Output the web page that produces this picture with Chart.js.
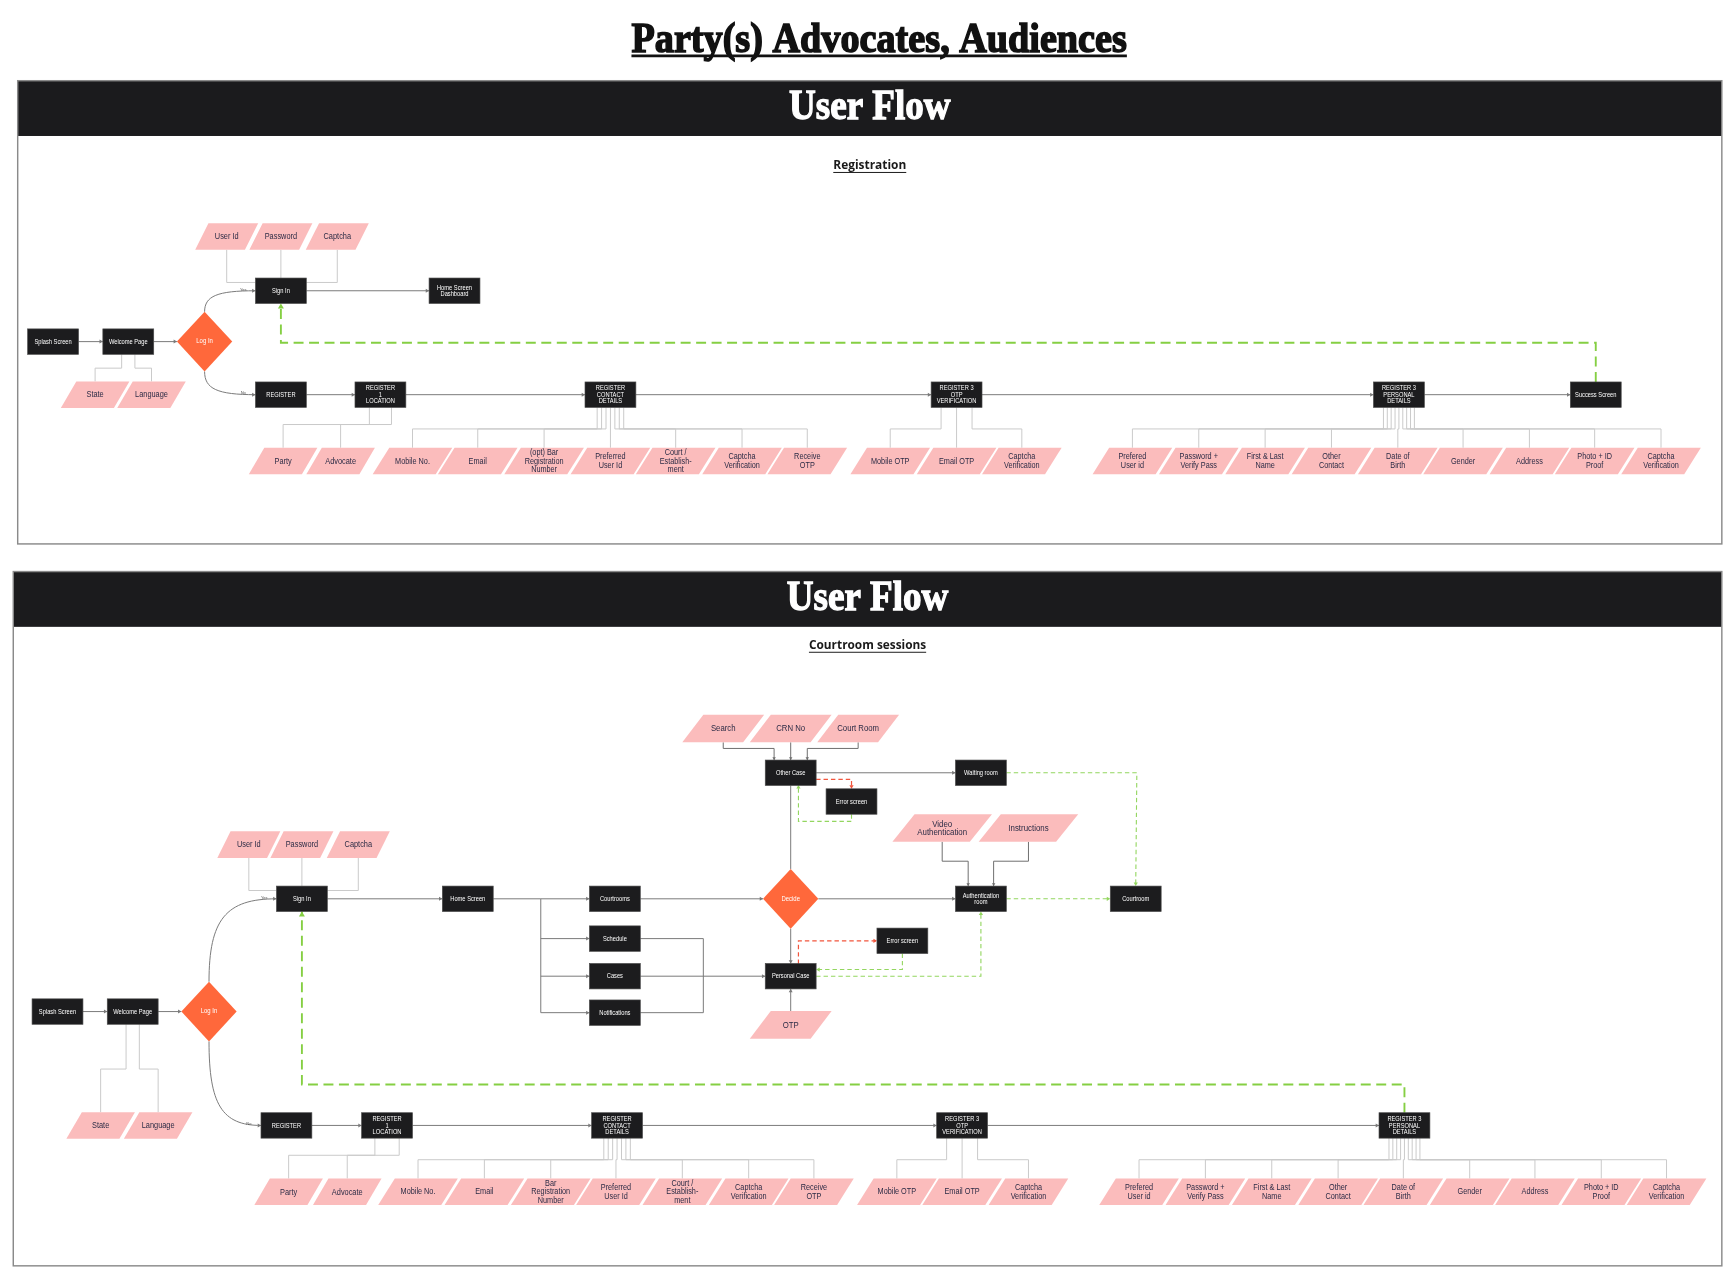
<!DOCTYPE html>
<html>
<head>
  <title>Party(s) Advocates, Audiences</title>
  <script src="https://cdn.jsdelivr.net/npm/chart.js"></script>
  <style>
    html, body { margin: 0; padding: 0; background: #fff; }
    #wrap { width: 1734px; height: 1278px; }
  </style>
</head>
<body>
  <div id="wrap"><canvas id="flow"></canvas></div>
  <script>
    // everything is placed in reference units (the sheet is 1568 x 1156 of them)
    const X_MAX = 1568, Y_MAX = 1156;

    const pageTitle = 'Party(s) Advocates, Audiences';
    const panelTitles = ['User Flow', 'User Flow'];
    const panelSubtitles = ['Registration', 'Courtroom sessions'];

    // ---- Registration flow ----
    const regScreens = [
      ['splash1', 'Splash Screen', 48, 309],
      ['welcome1', 'Welcome Page', 116, 309],
      ['signin1', 'Sign In', 254, 263],
      ['home1', 'Home Screen\nDashboard', 411, 263],
      ['register1', 'REGISTER', 254, 357],
      ['loc1', 'REGISTER\n1\nLOCATION', 344, 357],
      ['contact1', 'REGISTER\nCONTACT\nDETAILS', 552, 357],
      ['otp1', 'REGISTER 3\nOTP\nVERIFICATION', 865, 357],
      ['personal1', 'REGISTER 3\nPERSONAL\nDETAILS', 1265, 357],
      ['success1', 'Success Screen', 1443, 357]
    ];
    const regDecisions = [['login1', 'Log In', 185, 309]];
    const regInputs = [
      ['userid1', 'User Id', 205, 214, 's'],
      ['pass1', 'Password', 254, 214, 's'],
      ['cap1', 'Captcha', 305, 214, 's'],
      ['state1', 'State', 86, 357, 'm'],
      ['lang1', 'Language', 137, 357, 'm'],
      ['party1', 'Party', 256, 417, 'm'],
      ['adv1', 'Advocate', 308, 417, 'm'],
      ['mob1', 'Mobile No.', 373, 417, 'l'],
      ['email1', 'Email', 432, 417, 'l'],
      ['bar1', '(opt) Bar\nRegistration\nNumber', 492, 417, 'l'],
      ['pref1', 'Preferred\nUser Id', 552, 417, 'l'],
      ['court1', 'Court /\nEstablish-\nment', 611, 417, 'l'],
      ['capv1', 'Captcha\nVerification', 671, 417, 'l'],
      ['recv1', 'Receive\nOTP', 730, 417, 'l'],
      ['motp1', 'Mobile OTP', 805, 417, 'l'],
      ['eotp1', 'Email OTP', 865, 417, 'l'],
      ['capw1', 'Captcha\nVerification', 924, 417, 'l'],
      ['puid1', 'Prefered\nUser id', 1024, 417, 'l'],
      ['pwd1', 'Password +\nVerify Pass', 1084, 417, 'l'],
      ['name1', 'First & Last\nName', 1144, 417, 'l'],
      ['other1', 'Other\nContact', 1204, 417, 'l'],
      ['dob1', 'Date of\nBirth', 1264, 417, 'l'],
      ['gender1', 'Gender', 1323, 417, 'l'],
      ['addr1', 'Address', 1383, 417, 'l'],
      ['photo1', 'Photo + ID\nProof', 1442, 417, 'l'],
      ['capx1', 'Captcha\nVerification', 1502, 417, 'l']
    ];
    const regLinks = [
      ['splash1:r', 'welcome1:l'], ['welcome1:r', 'login1:l'], ['signin1:r', 'home1:l'],
      ['register1:r', 'loc1:l'], ['loc1:r', 'contact1:l'], ['contact1:r', 'otp1:l'],
      ['otp1:r', 'personal1:l'], ['personal1:r', 'success1:l']
    ];
    const regBranches = [['login1', 'signin1', 'Yes'], ['login1', 'register1', 'No']];
    const regFans = [
      ['welcome1', ['state1', 'lang1'], 333, 12],
      ['loc1', ['party1', 'adv1'], 384, 20],
      ['contact1', ['mob1', 'email1', 'bar1', 'pref1', 'court1', 'capv1', 'recv1'], 388, 4],
      ['otp1', ['motp1', 'eotp1', 'capw1'], 388, 14],
      ['personal1', ['puid1', 'pwd1', 'name1', 'other1', 'dob1', 'gender1', 'addr1', 'photo1', 'capx1'], 388, 3.5]
    ];
    const regSideFans = [['signin1', ['userid1', 'pass1', 'cap1']]];
    const regReturns = [['success1:t', [1443, 310], [254, 310], 'signin1:b']];

    // ---- Courtroom sessions flow ----
    const courtScreens = [
      ['splash2', 'Splash Screen', 52, 915],
      ['welcome2', 'Welcome Page', 120, 915],
      ['signin2', 'Sign In', 273, 813],
      ['home2', 'Home Screen', 423, 813],
      ['courtrooms', 'Courtrooms', 556, 813],
      ['schedule', 'Schedule', 556, 849],
      ['cases', 'Cases', 556, 883],
      ['notif', 'Notifications', 556, 916],
      ['othercase', 'Other Case', 715, 699],
      ['err1', 'Error screen', 770, 725],
      ['waiting', 'Waiting room', 887, 699],
      ['authroom', 'Authentication\nroom', 887, 813],
      ['courtroom', 'Courtroom', 1027, 813],
      ['err2', 'Error screen', 816, 851],
      ['personalcase', 'Personal Case', 715, 883],
      ['register2', 'REGISTER', 259, 1018],
      ['loc2', 'REGISTER\n1\nLOCATION', 350, 1018],
      ['contact2', 'REGISTER\nCONTACT\nDETAILS', 558, 1018],
      ['otp2', 'REGISTER 3\nOTP\nVERIFICATION', 870, 1018],
      ['personal2', 'REGISTER 3\nPERSONAL\nDETAILS', 1270, 1018]
    ];
    const courtDecisions = [['login2', 'Log In', 189, 915], ['decide', 'Decide', 715, 813]];
    const courtInputs = [
      ['userid2', 'User Id', 225, 764, 's'],
      ['pass2', 'Password', 273, 764, 's'],
      ['cap2', 'Captcha', 324, 764, 's'],
      ['search', 'Search', 654, 659, 'b'],
      ['crn', 'CRN No', 715, 659, 'b'],
      ['courtroomio', 'Court Room', 776, 659, 'b'],
      ['video', 'Video\nAuthentication', 852, 749, 'w'],
      ['instr', 'Instructions', 930, 749, 'w'],
      ['otpio', 'OTP', 715, 927, 'b'],
      ['state2', 'State', 91, 1018, 'm'],
      ['lang2', 'Language', 143, 1018, 'm'],
      ['party2', 'Party', 261, 1078, 'm'],
      ['adv2', 'Advocate', 314, 1078, 'm'],
      ['mob2', 'Mobile No.', 378, 1078, 'l'],
      ['email2', 'Email', 438, 1078, 'l'],
      ['bar2', 'Bar\nRegistration\nNumber', 498, 1078, 'l'],
      ['pref2', 'Preferred\nUser Id', 557, 1078, 'l'],
      ['court2', 'Court /\nEstablish-\nment', 617, 1078, 'l'],
      ['capv2', 'Captcha\nVerification', 677, 1078, 'l'],
      ['recv2', 'Receive\nOTP', 736, 1078, 'l'],
      ['motp2', 'Mobile OTP', 811, 1078, 'l'],
      ['eotp2', 'Email OTP', 870, 1078, 'l'],
      ['capw2', 'Captcha\nVerification', 930, 1078, 'l'],
      ['puid2', 'Prefered\nUser id', 1030, 1078, 'l'],
      ['pwd2', 'Password +\nVerify Pass', 1090, 1078, 'l'],
      ['name2', 'First & Last\nName', 1150, 1078, 'l'],
      ['other2', 'Other\nContact', 1210, 1078, 'l'],
      ['dob2', 'Date of\nBirth', 1269, 1078, 'l'],
      ['gender2', 'Gender', 1329, 1078, 'l'],
      ['addr2', 'Address', 1388, 1078, 'l'],
      ['photo2', 'Photo + ID\nProof', 1448, 1078, 'l'],
      ['capx2', 'Captcha\nVerification', 1507, 1078, 'l']
    ];
    const courtLinks = [
      ['splash2:r', 'welcome2:l'], ['welcome2:r', 'login2:l'], ['signin2:r', 'home2:l'],
      [[489, 813], 'courtrooms:l'], [[489, 849], 'schedule:l'], [[489, 883], 'cases:l'], [[489, 916], 'notif:l'],
      ['cases:r', 'personalcase:l'], ['courtrooms:r', 'decide:l'], ['decide:r', 'authroom:l'],
      ['decide:b', 'personalcase:t'], ['othercase:r', 'waiting:l'], ['otpio:t', 'personalcase:b'],
      ['register2:r', 'loc2:l'], ['loc2:r', 'contact2:l'], ['contact2:r', 'otp2:l'], ['otp2:r', 'personal2:l']
    ];
    const courtLines = [
      ['home2:r', [489, 813], [489, 916]],
      ['schedule:r', [636, 849], [636, 916], 'notif:r'],
      ['decide:t', 'othercase:b']
    ];
    const courtBranches = [['login2', 'signin2', 'Yes'], ['login2', 'register2', 'No']];
    const courtFans = [
      ['welcome2', ['state2', 'lang2'], 967, 12],
      ['loc2', ['party2', 'adv2'], 1045, 22],
      ['contact2', ['mob2', 'email2', 'bar2', 'pref2', 'court2', 'capv2', 'recv2'], 1049, 4],
      ['otp2', ['motp2', 'eotp2', 'capw2'], 1049, 14],
      ['personal2', ['puid2', 'pwd2', 'name2', 'other2', 'dob2', 'gender2', 'addr2', 'photo2', 'capx2'], 1049, 3.5]
    ];
    const courtInFans = [
      ['othercase', ['search', 'crn', 'courtroomio'], 677, 15],
      ['authroom', ['video', 'instr'], 779, 23]
    ];
    const courtSideFans = [['signin2', ['userid2', 'pass2', 'cap2']]];
    const courtOk = [
      ['err1:b', [770, 743], [722, 743], [722, 710]],
      ['waiting:r', [1028, 699], 'courtroom:t'],
      ['authroom:r', 'courtroom:l'],
      ['err2:b', [816, 877], [738, 877]],
      [[738, 883], [887, 883], 'authroom:b']
    ];
    const courtErr = [
      [[738, 705], [770, 705], 'err1:t'],
      [[722, 872], [722, 851], 'err2:l']
    ];
    const courtReturns = [['personal2:t', [1270, 981], [273, 981], 'signin2:b']];

    // ---- node table ----
    const nodes = {};
    function addNodes(list, type) {
      list.forEach(([id, label, x, y, kind]) => { nodes[id] = { id, label, x, y, type, kind }; });
    }
    addNodes(regScreens, 'screen'); addNodes(regDecisions, 'decision'); addNodes(regInputs, 'io');
    addNodes(courtScreens, 'screen'); addNodes(courtDecisions, 'decision'); addNodes(courtInputs, 'io');

    const IO = {
      s: { w: 45, skew: 12, h: 24, font: 7.6 },
      m: { w: 48, skew: 14, h: 24, font: 7.6 },
      l: { w: 57, skew: 15, h: 24, font: 7.5 },
      b: { w: 55, skew: 19, h: 25, font: 8.0 },
      w: { w: 70, skew: 20, h: 25, font: 8.1 }
    };
    function half(n) {
      if (n.type === 'screen') return [23, 11.5];
      if (n.type === 'decision') return [25, 27];
      return [IO[n.kind].w / 2, IO[n.kind].h / 2];
    }
    function anchor(ref) {
      if (Array.isArray(ref)) return ref;
      const [id, side] = ref.split(':');
      const n = nodes[id], [hw, hh] = half(n);
      if (side === 'l') return [n.x - hw, n.y];
      if (side === 'r') return [n.x + hw, n.y];
      if (side === 't') return [n.x, n.y - hh];
      return [n.x, n.y + hh];
    }

    const FONT = "'Liberation Sans', Arial, sans-serif";
    const SERIF = "'Liberation Serif', 'DejaVu Serif', serif";
    const FLOW = { color: '#7a7a7a', width: 0.9, arrow: true, head: 3 };
    const PLAIN = { color: '#7a7a7a', width: 0.9 };
    const FAN = { color: '#cacaca', width: 0.9 };
    const FEED = { color: '#6e6e6e', width: 0.9, arrow: true, head: 2.6 };
    const OK = { color: '#93d65f', width: 1, dash: [4, 2.7], arrow: true, head: 3.2 };
    const ERR = { color: '#f2553d', width: 1.1, dash: [4, 2.7], arrow: true, head: 3.2 };
    const BACK = { color: '#85cf43', width: 1.7, dash: [9, 5], arrow: true, head: 4.5 };

    const flowchart = {
      id: 'flowchart',
      afterDraw(chart) {
        const { ctx } = chart;
        const sx = chart.scales.x, sy = chart.scales.y;
        const X = v => sx.getPixelForValue(v);
        const Y = v => sy.getPixelForValue(v);
        const u = Math.abs(X(100) - X(0)) / 100;
        const P = r => { const a = anchor(r); return [X(a[0]), Y(a[1])]; };

        function head(a, b, st) {
          const ang = Math.atan2(b[1] - a[1], b[0] - a[0]);
          const L = st.head * u, W = st.head * 0.6 * u;
          ctx.save();
          ctx.translate(b[0], b[1]); ctx.rotate(ang);
          ctx.beginPath(); ctx.moveTo(0, 0); ctx.lineTo(-L, -W); ctx.lineTo(-L, W); ctx.closePath();
          ctx.fillStyle = st.color; ctx.fill();
          ctx.restore();
        }
        function stroke(refs, st) {
          const pts = refs.map(P);
          ctx.save();
          ctx.strokeStyle = st.color; ctx.lineWidth = st.width * u;
          ctx.setLineDash((st.dash || []).map(d => d * u));
          ctx.beginPath();
          pts.forEach((p, i) => i ? ctx.lineTo(p[0], p[1]) : ctx.moveTo(p[0], p[1]));
          ctx.stroke();
          ctx.restore();
          if (st.arrow) head(pts[pts.length - 2], pts[pts.length - 1], st);
        }
        function text(str, x, y, size, o = {}) {
          const lines = String(str).split('\n');
          const lh = o.lh || size * 1.12;
          ctx.save();
          ctx.font = `${o.weight || 'normal'} ${size * u}px ${o.family || FONT}`;
          ctx.fillStyle = o.color || '#000';
          ctx.textAlign = o.align || 'center';
          ctx.textBaseline = o.baseline || 'middle';
          const y0 = y - (lines.length - 1) * lh / 2;
          lines.forEach((ln, i) => {
            ctx.save();
            ctx.translate(X(x), Y(y0 + i * lh));
            let s = o.scaleX || 1;
            if (o.fitW) s = o.fitW * u / ctx.measureText(ln).width;
            ctx.scale(s, 1);
            ctx.fillText(ln, 0, 0);
            if (o.bold) { ctx.lineWidth = o.bold * u; ctx.strokeStyle = o.color; ctx.strokeText(ln, 0, 0); }
            ctx.restore();
          });
          ctx.restore();
        }

        // page title
        text(pageTitle, 795, 47, 38, { family: SERIF, weight: 'bold', baseline: 'alphabetic',
          fitW: 448, color: '#111', bold: 1.4 });
        stroke([[571, 50.5], [1019, 50.5]], { color: '#111', width: 2.4 });

        // panels
        const frames = [[16, 73, 1557, 492, 123], [12, 517, 1557, 1145, 567]];
        frames.forEach(([l, t, r, b, hb], i) => {
          ctx.fillStyle = '#1b1b1d';
          ctx.fillRect(X(l), Y(t), X(r) - X(l), Y(hb) - Y(t));
          ctx.strokeStyle = '#8a8a8a'; ctx.lineWidth = 1.3 * u;
          ctx.strokeRect(X(l), Y(t), X(r) - X(l), Y(b) - Y(t));
          const cx = (l + r) / 2;
          text(panelTitles[i], cx, hb - 15, 39, { family: SERIF, weight: 'bold', baseline: 'alphabetic',
            fitW: 146, color: '#fff', bold: 1.2 });
          const subY = i === 0 ? 150 : 584;
          const subW = i === 0 ? 66 : 106;
          text(panelSubtitles[i], cx, subY, 11.5, { family: "'Open Sans', sans-serif", weight: 'bold', fitW: subW, color: '#1a1a1a' });
          stroke([[cx - subW / 2, subY + 6], [cx + subW / 2, subY + 6]], { color: '#1a1a1a', width: 0.9 });
        });

        // light connectors from screens to their fields
        [...regFans, ...courtFans].forEach(([pid, kids, bus, step]) => {
          const p = nodes[pid], [, ph] = half(p);
          kids.forEach((cid, i) => {
            const c = nodes[cid], [, ch] = half(c);
            const sxv = p.x + (i - (kids.length - 1) / 2) * step;
            if (Math.abs(sxv - c.x) < 0.6) stroke([[c.x, p.y + ph], [c.x, c.y - ch]], FAN);
            else stroke([[sxv, p.y + ph], [sxv, bus], [c.x, bus], [c.x, c.y - ch]], FAN);
          });
        });
        [...regSideFans, ...courtSideFans].forEach(([pid, kids]) => {
          const p = nodes[pid], [pw, ph] = half(p);
          kids.forEach(cid => {
            const c = nodes[cid], [, ch] = half(c);
            if (c.x < p.x - pw) stroke([[c.x, c.y + ch], [c.x, p.y - ph + 4], [p.x - pw, p.y - ph + 4]], FAN);
            else if (c.x > p.x + pw) stroke([[c.x, c.y + ch], [c.x, p.y - ph + 4], [p.x + pw, p.y - ph + 4]], FAN);
            else stroke([[c.x, c.y + ch], [c.x, p.y - ph]], FAN);
          });
        });
        courtInFans.forEach(([pid, kids, bus, step]) => {
          const p = nodes[pid], [, ph] = half(p);
          kids.forEach((cid, i) => {
            const c = nodes[cid], [, ch] = half(c);
            const sxv = p.x + (i - (kids.length - 1) / 2) * step;
            if (Math.abs(sxv - c.x) < 0.6) stroke([[c.x, c.y + ch], [c.x, p.y - ph]], FEED);
            else stroke([[c.x, c.y + ch], [c.x, bus], [sxv, bus], [sxv, p.y - ph]], FEED);
          });
        });

        // main flow
        [...regLinks, ...courtLinks].forEach(r => stroke(r, FLOW));
        courtLines.forEach(r => stroke(r, PLAIN));
        [...regBranches, ...courtBranches].forEach(([did, bid, word]) => {
          const d = nodes[did], b = nodes[bid];
          const [, dh] = half(d), [bw] = half(b);
          const up = b.y < d.y;
          const a0 = [X(d.x), Y(up ? d.y - dh : d.y + dh)];
          const a1 = [X(b.x - bw), Y(b.y)];
          ctx.save();
          ctx.strokeStyle = FLOW.color; ctx.lineWidth = FLOW.width * u;
          ctx.beginPath(); ctx.moveTo(a0[0], a0[1]);
          ctx.bezierCurveTo(a0[0], a0[1] + (a1[1] - a0[1]) * 0.75, a0[0] + (a1[0] - a0[0]) * 0.25, a1[1], a1[0], a1[1]);
          ctx.stroke(); ctx.restore();
          head([a1[0] - 5, a1[1]], a1, FLOW);
          text(word, b.x - bw - 11, b.y - 1.2, 3.6, { color: '#555' });
        });

        // dashed outcome paths
        courtOk.forEach(r => stroke(r, OK));
        courtErr.forEach(r => stroke(r, ERR));
        [...regReturns, ...courtReturns].forEach(r => stroke(r, BACK));

        // nodes
        Object.values(nodes).forEach(n => {
          const [hw, hh] = half(n);
          if (n.type === 'screen') {
            ctx.fillStyle = '#1c1c1e';
            ctx.fillRect(X(n.x - hw), Y(n.y - hh), 2 * hw * u, 2 * hh * u);
            ctx.strokeStyle = '#4a4a4a'; ctx.lineWidth = 0.6 * u;
            ctx.strokeRect(X(n.x - hw), Y(n.y - hh), 2 * hw * u, 2 * hh * u);
            text(n.label, n.x, n.y + 0.3, 5.9, { color: '#fff', lh: 6, scaleX: 0.88 });
          } else if (n.type === 'decision') {
            ctx.beginPath();
            ctx.moveTo(X(n.x), Y(n.y - hh)); ctx.lineTo(X(n.x + hw), Y(n.y));
            ctx.lineTo(X(n.x), Y(n.y + hh)); ctx.lineTo(X(n.x - hw), Y(n.y)); ctx.closePath();
            ctx.fillStyle = '#ff683b'; ctx.fill();
            text(n.label, n.x, n.y, 6, { color: '#fff', scaleX: 0.9 });
          } else {
            const s = IO[n.kind];
            ctx.beginPath();
            ctx.moveTo(X(n.x - hw - s.skew / 2), Y(n.y + hh));
            ctx.lineTo(X(n.x + hw - s.skew / 2), Y(n.y + hh));
            ctx.lineTo(X(n.x + hw + s.skew / 2), Y(n.y - hh));
            ctx.lineTo(X(n.x - hw + s.skew / 2), Y(n.y - hh));
            ctx.closePath();
            ctx.fillStyle = '#fbbcbc'; ctx.fill();
            text(n.label, n.x, n.y + 0.4, s.font, { color: '#2b2b45', lh: 7.7, scaleX: 0.88 });
          }
        });
      }
    };

    new Chart(document.getElementById('flow'), {
      type: 'scatter',
      data: {
        datasets: [{
          label: 'nodes',
          data: Object.values(nodes).map(n => ({ x: n.x, y: n.y })),
          pointRadius: 0,
          pointHoverRadius: 0
        }]
      },
      options: {
        responsive: true,
        maintainAspectRatio: false,
        animation: false,
        events: [],
        layout: { padding: 0 },
        plugins: { legend: { display: false }, tooltip: { enabled: false } },
        scales: {
          x: { type: 'linear', min: 0, max: X_MAX, display: false },
          y: { type: 'linear', min: 0, max: Y_MAX, reverse: true, display: false }
        }
      },
      plugins: [flowchart]
    });
  </script>
</body>
</html>
